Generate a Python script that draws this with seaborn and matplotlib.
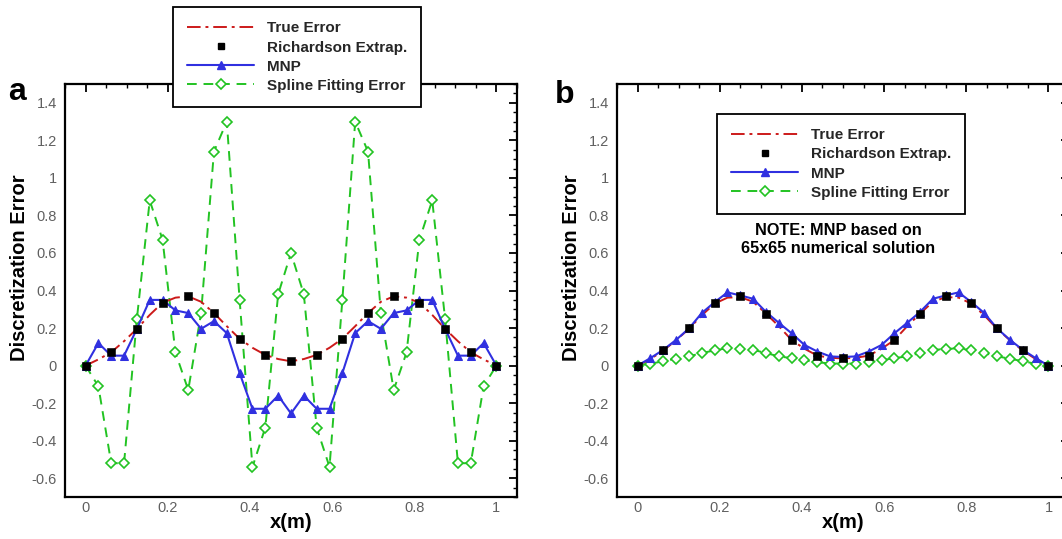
import numpy as np
import pandas as pd
import matplotlib
matplotlib.use("Agg")
import matplotlib.pyplot as plt
import seaborn as sns
from matplotlib.lines import Line2D
from matplotlib.ticker import MultipleLocator, FuncFormatter

# ---------------- data ----------------
x_fine = np.linspace(0, 1, 33)     # grid for true error, MNP, spline
x_coarse = np.linspace(0, 1, 17)   # grid for Richardson extrapolation

true_a = [0, 0.033, 0.071, 0.13, 0.196, 0.27, 0.335, 0.362, 0.369, 0.34, 0.28, 0.21,
          0.143, 0.095, 0.057, 0.035, 0.023, 0.035, 0.057, 0.095, 0.143, 0.21, 0.28,
          0.34, 0.369, 0.362, 0.335, 0.27, 0.196, 0.13, 0.071, 0.033, 0]
rich_a = [0, 0.071, 0.196, 0.335, 0.369, 0.28, 0.143, 0.057, 0.023, 0.057, 0.143,
          0.28, 0.369, 0.335, 0.196, 0.071, 0]
mnp_a = [0, 0.12, 0.053, 0.053, 0.196, 0.35, 0.35, 0.294, 0.28, 0.196, 0.237, 0.173,
         -0.04, -0.23, -0.23, -0.16, -0.255, -0.16, -0.23, -0.23, -0.04, 0.173, 0.237,
         0.196, 0.28, 0.294, 0.35, 0.35, 0.196, 0.053, 0.053, 0.12, 0]
spline_a = [0, -0.11, -0.52, -0.52, 0.25, 0.88, 0.67, 0.07, -0.13, 0.28, 1.14, 1.30,
            0.35, -0.54, -0.33, 0.38, 0.60, 0.38, -0.33, -0.54, 0.35, 1.30, 1.14, 0.28,
            -0.13, 0.07, 0.67, 0.88, 0.25, -0.52, -0.52, -0.11, 0]

true_b = [0, 0.035, 0.08, 0.135, 0.196, 0.268, 0.33, 0.362, 0.365, 0.34, 0.277, 0.21,
          0.136, 0.09, 0.053, 0.042, 0.038, 0.042, 0.053, 0.09, 0.136, 0.21, 0.277,
          0.34, 0.365, 0.362, 0.33, 0.268, 0.196, 0.135, 0.08, 0.035, 0]
rich_b = [0, 0.081, 0.198, 0.335, 0.37, 0.277, 0.136, 0.053, 0.04, 0.053, 0.136,
          0.277, 0.37, 0.335, 0.198, 0.081, 0]
mnp_b = [0, 0.04, 0.084, 0.137, 0.198, 0.28, 0.338, 0.39, 0.374, 0.356, 0.286, 0.228,
         0.172, 0.11, 0.075, 0.049, 0.046, 0.049, 0.075, 0.11, 0.172, 0.228, 0.286,
         0.356, 0.374, 0.39, 0.338, 0.28, 0.198, 0.137, 0.084, 0.04, 0]
spline_b = [0, 0.01, 0.023, 0.037, 0.049, 0.067, 0.081, 0.093, 0.088, 0.084, 0.067,
            0.049, 0.04, 0.028, 0.018, 0.011, 0.011, 0.011, 0.018, 0.028, 0.04, 0.049,
            0.067, 0.084, 0.088, 0.093, 0.081, 0.067, 0.049, 0.037, 0.023, 0.01, 0]

series_labels = ["True Error", "Richardson Extrap.", "MNP", "Spline Fitting Error"]
panel_letters = ["a", "b"]
x_label = "x(m)"
y_label = "Discretization Error"
note_text = "NOTE: MNP based on\n65x65 numerical solution"

# ---------------- style ----------------
RED = "#cc1a1a"
BLUE = "#3030e0"
GREEN = "#22c322"
TICK_GRAY = "#606060"

sns.set_theme(style="white")
plt.rcParams["font.family"] = ["Liberation Sans", "DejaVu Sans"]

fig = plt.figure(figsize=(10.62, 5.39), dpi=100)
axA = fig.add_axes([0.0612, 0.0779, 0.4256, 0.7662])
axB = fig.add_axes([0.5810, 0.0779, 0.4256, 0.7662])

dash_dot = (0, (7, 2.5, 1.5, 2.5))
dashed = (0, (5, 3.5))

D_MS = 5.0
T_MS = 5.5


def draw(ax, true, rich, mnp, spline):
    sns.lineplot(x=x_fine, y=spline, ax=ax, color=GREEN, linestyle=dashed, lw=1.4,
                 marker="D", ms=D_MS, mfc="white", mec=GREEN, mew=1.2, zorder=2)
    sns.lineplot(x=x_fine, y=true, ax=ax, color=RED, linestyle=dash_dot, lw=1.4, zorder=3)
    sns.lineplot(x=x_fine, y=mnp, ax=ax, color=BLUE, lw=1.5, marker="^", ms=T_MS,
                 mec=BLUE, mfc=BLUE, zorder=4)
    sns.scatterplot(x=x_coarse, y=rich, ax=ax, marker="s", s=28, color="black",
                    edgecolor="black", zorder=5)

    ax.set_xlim(-0.05, 1.05)
    ax.set_ylim(-0.7, 1.5)
    ax.xaxis.set_minor_locator(MultipleLocator(0.05))
    ax.yaxis.set_minor_locator(MultipleLocator(0.05))
    fmt = FuncFormatter(lambda v, p: f"{round(v, 2):g}" if abs(v) > 1e-9 else "0")
    ax.set_yticks(np.round(np.arange(-0.6, 1.41, 0.2), 2))
    ax.set_xticks(np.round(np.arange(0, 1.01, 0.2), 2))
    ax.xaxis.set_major_formatter(fmt)
    ax.yaxis.set_major_formatter(fmt)
    ax.tick_params(which="both", direction="in", top=True, right=True, color="black",
                   labelcolor=TICK_GRAY, labelsize=10.5)
    ax.tick_params(which="major", length=6, width=1.3)
    ax.tick_params(which="minor", length=3, width=1.0)
    ax.tick_params(axis="x", pad=3)
    ax.tick_params(axis="y", pad=6)
    for s in ax.spines.values():
        s.set_color("black")
        s.set_linewidth(1.6)
    ax.set_facecolor("white")

    ax.set_xlabel(x_label, fontsize=14.5, fontweight="bold", color="black")
    ax.set_ylabel(y_label, fontsize=14.5, fontweight="bold", color="black")
    ax.xaxis.set_label_coords(0.5, -0.062)
    ax.xaxis.label.set_va("center")
    ax.yaxis.set_label_coords(-0.10, 0.556)
    ax.yaxis.label.set_va("center")


draw(axA, true_a, rich_a, mnp_a, spline_a)
draw(axB, true_b, rich_b, mnp_b, spline_b)

handles = [
    Line2D([], [], color=RED, linestyle=dash_dot, lw=1.4),
    Line2D([], [], color="black", marker="s", linestyle="None", ms=5),
    Line2D([], [], color=BLUE, lw=1.5, marker="^", ms=T_MS),
    Line2D([], [], color=GREEN, linestyle=dashed, lw=1.4, marker="D", ms=D_MS,
           mfc="white", mec=GREEN, mew=1.2),
]

leg_kw = dict(loc="center", frameon=True, fancybox=False, framealpha=1,
              edgecolor="black", facecolor="white", handlelength=4.4,
              handletextpad=0.8, labelspacing=0.33, borderpad=0.95,
              prop={"size": 11, "weight": "bold"})
legA = fig.legend(handles, series_labels, bbox_to_anchor=(0.2797, 0.8942), **leg_kw)
legA.get_frame().set_linewidth(1.3)
legB = fig.legend(handles, series_labels, bbox_to_anchor=(0.7919, 0.6957), **leg_kw)
legB.get_frame().set_linewidth(1.3)

fig.text(0.7891, 0.5557, note_text, ha="center", va="center", fontsize=11.7,
         fontweight="bold", color="black", linespacing=1.2)

fig.text(17 / 1062, 1 - 92 / 539, panel_letters[0], ha="center", va="center",
         fontsize=23, fontweight="bold", color="black")
fig.text(565 / 1062, 1 - 95 / 539, panel_letters[1], ha="center", va="center",
         fontsize=23, fontweight="bold", color="black")

fig.savefig("out.png", dpi=100, facecolor="white")
